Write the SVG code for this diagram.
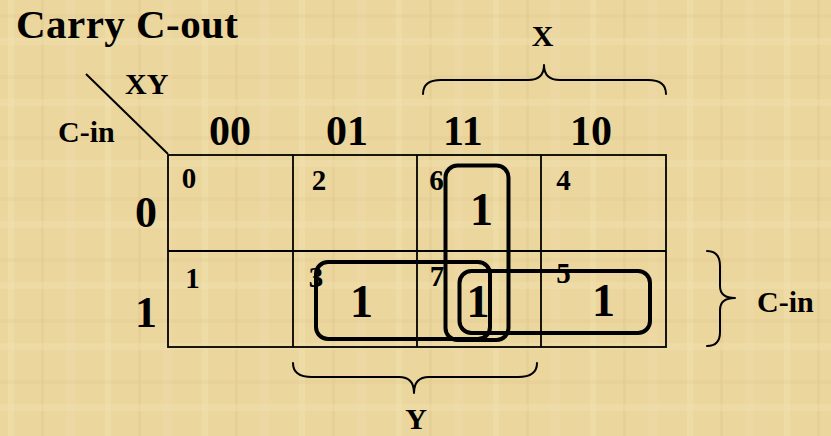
<svg xmlns="http://www.w3.org/2000/svg" width="831" height="436" viewBox="0 0 831 436">
  <defs>
    <pattern id="paper" width="97" height="61" patternUnits="userSpaceOnUse">
      <rect width="97" height="61" fill="#EBD69E"/>
      <rect x="8" y="0" width="6" height="61" fill="#F2E1B0" opacity="0.5"/>
      <rect x="41" y="0" width="3" height="61" fill="#E0C688" opacity="0.35"/>
      <rect x="66" y="0" width="9" height="61" fill="#F0DDAA" opacity="0.45"/>
      <rect x="0" y="14" width="97" height="4" fill="#E2CA8E" opacity="0.3"/>
      <rect x="0" y="38" width="97" height="7" fill="#F1E0B0" opacity="0.4"/>
    </pattern>
    <style>
      .t { font-family: "Liberation Serif", "Times New Roman", serif; font-weight: bold; fill: #000; }
      .hdr { font-size: 42px; }
      .lbl { font-size: 30px; }
      .num { font-size: 29px; text-anchor: middle; }
      .one { font-size: 46px; text-anchor: middle; }
      .row { font-size: 44px; text-anchor: middle; }
      .grid { fill: none; stroke: #000; stroke-width: 1.8; }
      .loop { fill: none; stroke: #000; stroke-width: 4; }
      .brace { fill: none; stroke: #000; stroke-width: 2; stroke-linecap: round; stroke-linejoin: round; }
    </style>
  </defs>
  <rect width="831" height="436" fill="url(#paper)"/>

  <text id="title" class="t" x="16" y="38" font-size="41" textLength="222" lengthAdjust="spacing">Carry C-out</text>

  <g id="axis-labels">
    <line x1="86" y1="74" x2="168" y2="154" stroke="#000" stroke-width="2"/>
    <text class="t lbl" x="125" y="94" font-size="29">XY</text>
    <text class="t lbl" x="58" y="142">C-in</text>
    <text class="t hdr" x="209" y="145">00</text>
    <text class="t hdr" x="326" y="145">01</text>
    <text class="t hdr" x="443" y="145">11</text>
    <text class="t hdr" x="570" y="145">10</text>
    <text class="t row" x="146" y="227">0</text>
    <text class="t row" x="146" y="327">1</text>
  </g>

  <g id="kmap-grid">
    <rect class="grid" x="168" y="155" width="498" height="192"/>
    <line class="grid" x1="293" y1="155" x2="293" y2="347"/>
    <line class="grid" x1="417" y1="155" x2="417" y2="347"/>
    <line class="grid" x1="541" y1="155" x2="541" y2="347"/>
    <line class="grid" x1="168" y1="251" x2="666" y2="251"/>
  </g>

  <g id="cell-0"><text class="t num" x="189" y="187.5">0</text></g>
  <g id="cell-2"><text class="t num" x="319" y="190">2</text></g>
  <g id="cell-6"><text class="t num" x="436.5" y="190">6</text><text class="t one" x="481.5" y="225">1</text></g>
  <g id="cell-4"><text class="t num" x="563.5" y="189.5">4</text></g>
  <g id="cell-1"><text class="t num" x="192.5" y="287.5">1</text></g>
  <g id="cell-3"><text class="t num" x="316" y="287">3</text><text class="t one" x="361.5" y="317">1</text></g>
  <g id="cell-7"><text class="t num" x="437" y="286">7</text><text class="t one" x="478" y="317">1</text></g>
  <g id="cell-5"><text class="t num" x="563.5" y="283">5</text><text class="t one" x="603.5" y="316">1</text></g>

  <g id="loops">
    <rect class="loop" x="445.5" y="165.5" width="63" height="174.5" rx="12" ry="12"/>
    <rect class="loop" x="316" y="262" width="174" height="77" rx="12" ry="12"/>
    <rect class="loop" x="459.5" y="271" width="190.5" height="62" rx="12" ry="12"/>
  </g>

  <g id="brace-x">
    <path class="brace" d="M423,94 Q423,80 441,80 L528,80 Q544,80 544,65 Q544,80 560,80 L648,80 Q666,80 666,94"/>
    <text class="t lbl" x="542.5" y="46" text-anchor="middle">X</text>
  </g>
  <g id="brace-y">
    <path class="brace" d="M293,363 Q293,377 312,377 L399,377 Q414,377 414,393 Q414,377 429,377 L518,377 Q537,377 537,363"/>
    <text class="t lbl" x="416" y="429" text-anchor="middle">Y</text>
  </g>
  <g id="brace-cin">
    <path class="brace" d="M707,251 Q720,251 720,266 L720,286 Q720,298 735,298 Q720,298 720,310 L720,332 Q720,346 707,346"/>
    <text class="t lbl" x="757" y="312">C-in</text>
  </g>
</svg>
